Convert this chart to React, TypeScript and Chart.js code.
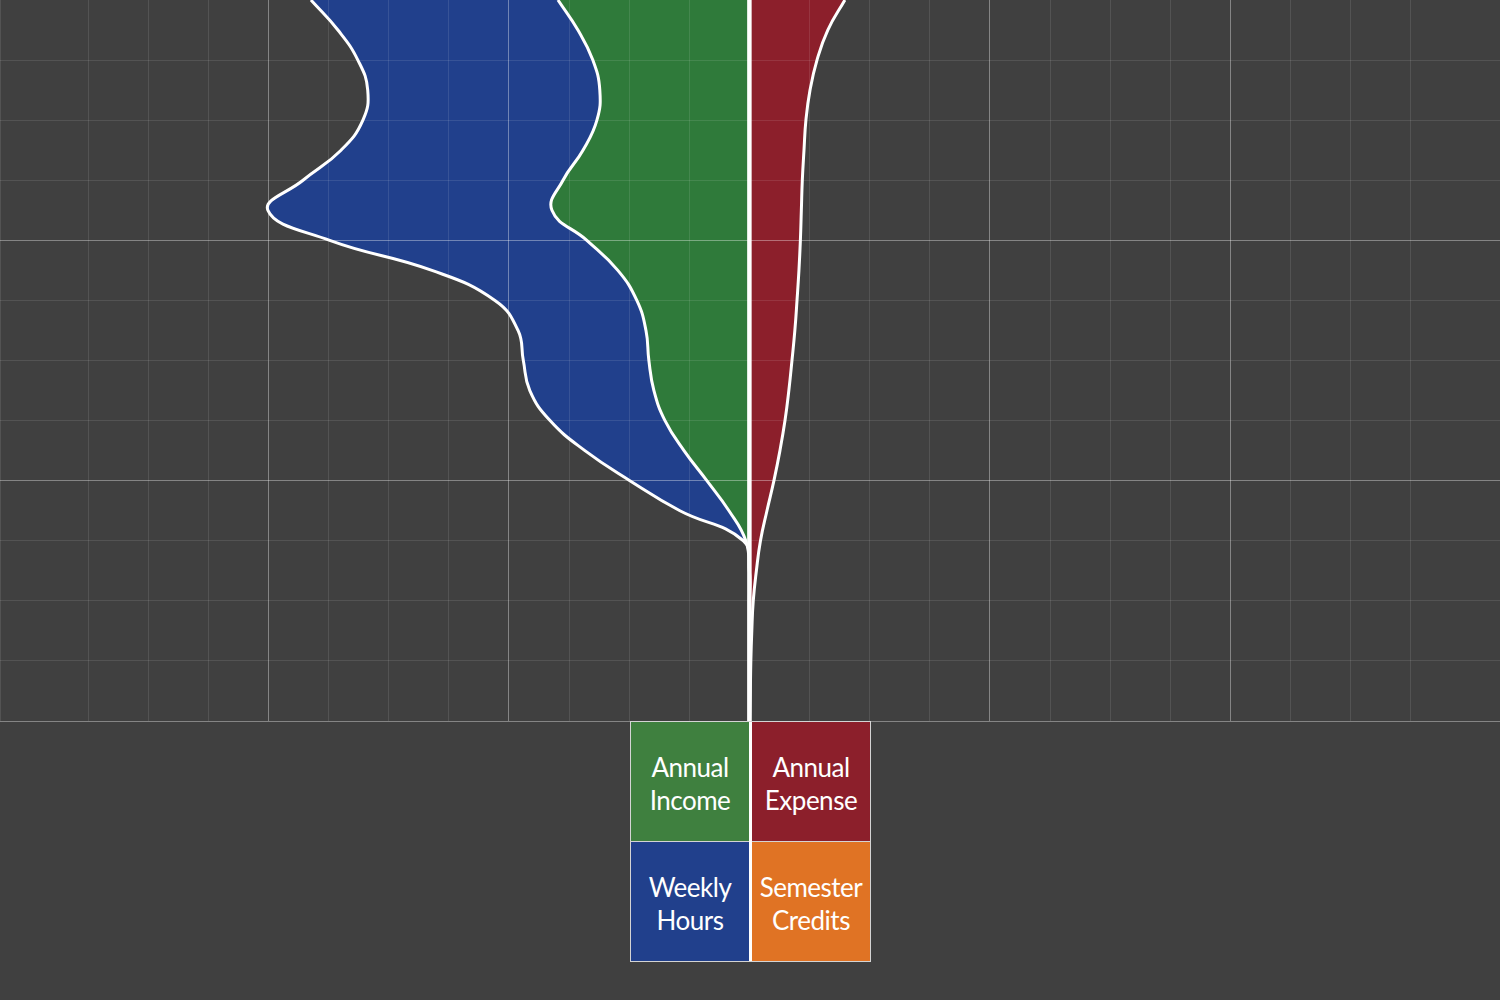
import React, { useEffect, useRef } from 'react';
import { Chart, registerables } from 'chart.js';

Chart.register(...registerables);

// Vertical positions of the samples (rows from the top of the plot)
const levels = [0, 0.5, 1, 1.5, 2, 2.5, 3, 3.5, 4, 4.5, 5, 5.5, 6, 6.5, 7, 7.5, 8, 8.5, 9, 9.5, 10, 10.5, 11, 11.5, 12];

// Left side (drawn to the left of the centre line)
const annualIncome = [79.6, 71.3, 65.1, 62.2, 63.4, 69.2, 77.5, 82.1, 67.6, 54.7, 46.8, 43.0, 41.8, 39.7, 35.1, 27.2, 17.7, 8.5, 1.5, 0, 0, 0, 0, 0, 0];
const weeklyHours = [102.7, 99.8, 97.7, 96.5, 97.3, 100.6, 108.1, 118.1, 106.9, 77.3, 59.0, 53.2, 52.2, 51.6, 47.8, 41.2, 32.0, 20.4, 1.0, 0, 0, 0, 0, 0, 0];

// Right side
const annualExpense = [39.7, 32.6, 28.1, 25.2, 23.5, 22.7, 22.0, 21.6, 21.2, 20.6, 19.8, 18.9, 17.7, 16.4, 14.8, 12.7, 10.2, 7.3, 4.6, 2.9, 1.6, 1.0, 0.6, 0.4, 0.2];
const semesterCredits = [0, 0, 0, 0, 0, 0, 0, 0, 0, 0, 0, 0, 0, 0, 0, 0, 0, 0, 0, 0, 0, 0, 0, 0, 0];

const legendItems = [
  { label: ['Annual', 'Income'], color: '#3f803f' },
  { label: ['Annual', 'Expense'], color: '#8c1f2b' },
  { label: ['Weekly', 'Hours'], color: '#21408c' },
  { label: ['Semester', 'Credits'], color: '#e07324' },
];

const X_MIN = -311.6;
const X_MAX = 312.1;
const MAJOR = 'rgba(255,255,255,0.36)';
const MINOR = 'rgba(255,255,255,0.1)';

export default function App() {
  const ref = useRef<HTMLCanvasElement | null>(null);

  useEffect(() => {
    document.body.style.margin = '0';
    document.body.style.background = '#404040';
    const pts = (vals: number[], sign: number) => vals.map((v, i) => ({ x: sign * v, y: levels[i] }));
    const chart = new Chart(ref.current as HTMLCanvasElement, {
      type: 'line',
      data: {
        datasets: [
          {
            label: 'Semester Credits',
            data: pts(semesterCredits, 1),
            stack: 'credits',
            borderColor: '#ffffff',
            borderWidth: 4.5,
            backgroundColor: '#e07324',
            fill: false,
          },
          {
            label: 'Annual Income',
            data: pts(annualIncome, -1),
            stack: 'main',
            borderColor: '#ffffff',
            borderWidth: 3,
            backgroundColor: '#2f7a3a',
            fill: 'origin',
          },
          {
            label: 'Weekly Hours',
            data: pts(weeklyHours, -1),
            stack: 'main',
            borderColor: '#ffffff',
            borderWidth: 3,
            backgroundColor: '#21408c',
            fill: '-1',
          },
          {
            label: 'Annual Expense',
            data: pts(annualExpense, 1),
            stack: 'main',
            borderColor: '#ffffff',
            borderWidth: 3,
            backgroundColor: '#8c1f2b',
            fill: 'origin',
          },
        ],
      },
      options: {
        animation: false,
        responsive: false,
        indexAxis: 'y',
        layout: { padding: { left: 0, right: 0, top: 0, bottom: 279 } },
        elements: {
          point: { radius: 0, hoverRadius: 0 },
          line: { tension: 0.45, cubicInterpolationMode: 'default' },
        },
        plugins: {
          legend: { display: false },
          tooltip: { enabled: false },
        },
        scales: {
          x: {
            type: 'linear',
            stacked: true,
            min: X_MIN,
            max: X_MAX,
            ticks: { display: false, stepSize: 25 },
            border: { display: false },
            grid: {
              z: 1,
              drawTicks: false,
              tickLength: 0,
              lineWidth: 1,
              color: (c: any) => (Math.abs(c.tick.value % 100) < 1e-6 ? MAJOR : MINOR),
            },
          },
          y: {
            type: 'linear',
            reverse: true,
            min: 0,
            max: 12,
            ticks: { display: false, stepSize: 1 },
            border: { display: false },
            grid: {
              z: 1,
              drawTicks: false,
              tickLength: 0,
              lineWidth: 1,
              color: (c: any) => {
                const v = c.tick.value;
                if (v === 0) return 'rgba(0,0,0,0)';
                return v % 4 === 0 ? MAJOR : MINOR;
              },
            },
          },
        },
      } as any,
    });
    return () => chart.destroy();
  }, []);

  const cellStyle = (color: string): React.CSSProperties => ({
    background: color,
    display: 'flex',
    flexDirection: 'column',
    alignItems: 'center',
    justifyContent: 'center',
    color: '#ffffff',
    fontFamily: 'Lato, "Open Sans", sans-serif',
    fontSize: 26,
    lineHeight: '33px',
    letterSpacing: '-0.5px',
    paddingTop: 4,
    boxSizing: 'border-box',
    whiteSpace: 'nowrap',
  });

  return (
    <div style={{ position: 'fixed', left: 0, top: 0, width: 1500, height: 1000, background: '#404040', overflow: 'hidden' }}>
      <canvas ref={ref} width={1500} height={1000} style={{ position: 'absolute', left: 0, top: 0, width: 1500, height: 1000 }} />
      <div
        style={{
          position: 'absolute',
          left: 630,
          top: 721,
          width: 241,
          height: 241,
          boxSizing: 'border-box',
          padding: 1,
          background: '#d4d4d4',
          display: 'grid',
          gridTemplateColumns: '118px 3px 118px',
          gridTemplateRows: '119px 1px 119px',
        }}
      >
        <div style={{ ...cellStyle(legendItems[0].color), gridColumn: 1, gridRow: 1 }}>
          <div>{legendItems[0].label[0]}</div>
          <div>{legendItems[0].label[1]}</div>
        </div>
        <div style={{ background: '#ffffff', gridColumn: 2, gridRow: '1 / 4' }} />
        <div style={{ ...cellStyle(legendItems[1].color), gridColumn: 3, gridRow: 1 }}>
          <div>{legendItems[1].label[0]}</div>
          <div>{legendItems[1].label[1]}</div>
        </div>
        <div style={{ ...cellStyle(legendItems[2].color), gridColumn: 1, gridRow: 3 }}>
          <div>{legendItems[2].label[0]}</div>
          <div>{legendItems[2].label[1]}</div>
        </div>
        <div style={{ ...cellStyle(legendItems[3].color), gridColumn: 3, gridRow: 3 }}>
          <div>{legendItems[3].label[0]}</div>
          <div>{legendItems[3].label[1]}</div>
        </div>
      </div>
    </div>
  );
}
